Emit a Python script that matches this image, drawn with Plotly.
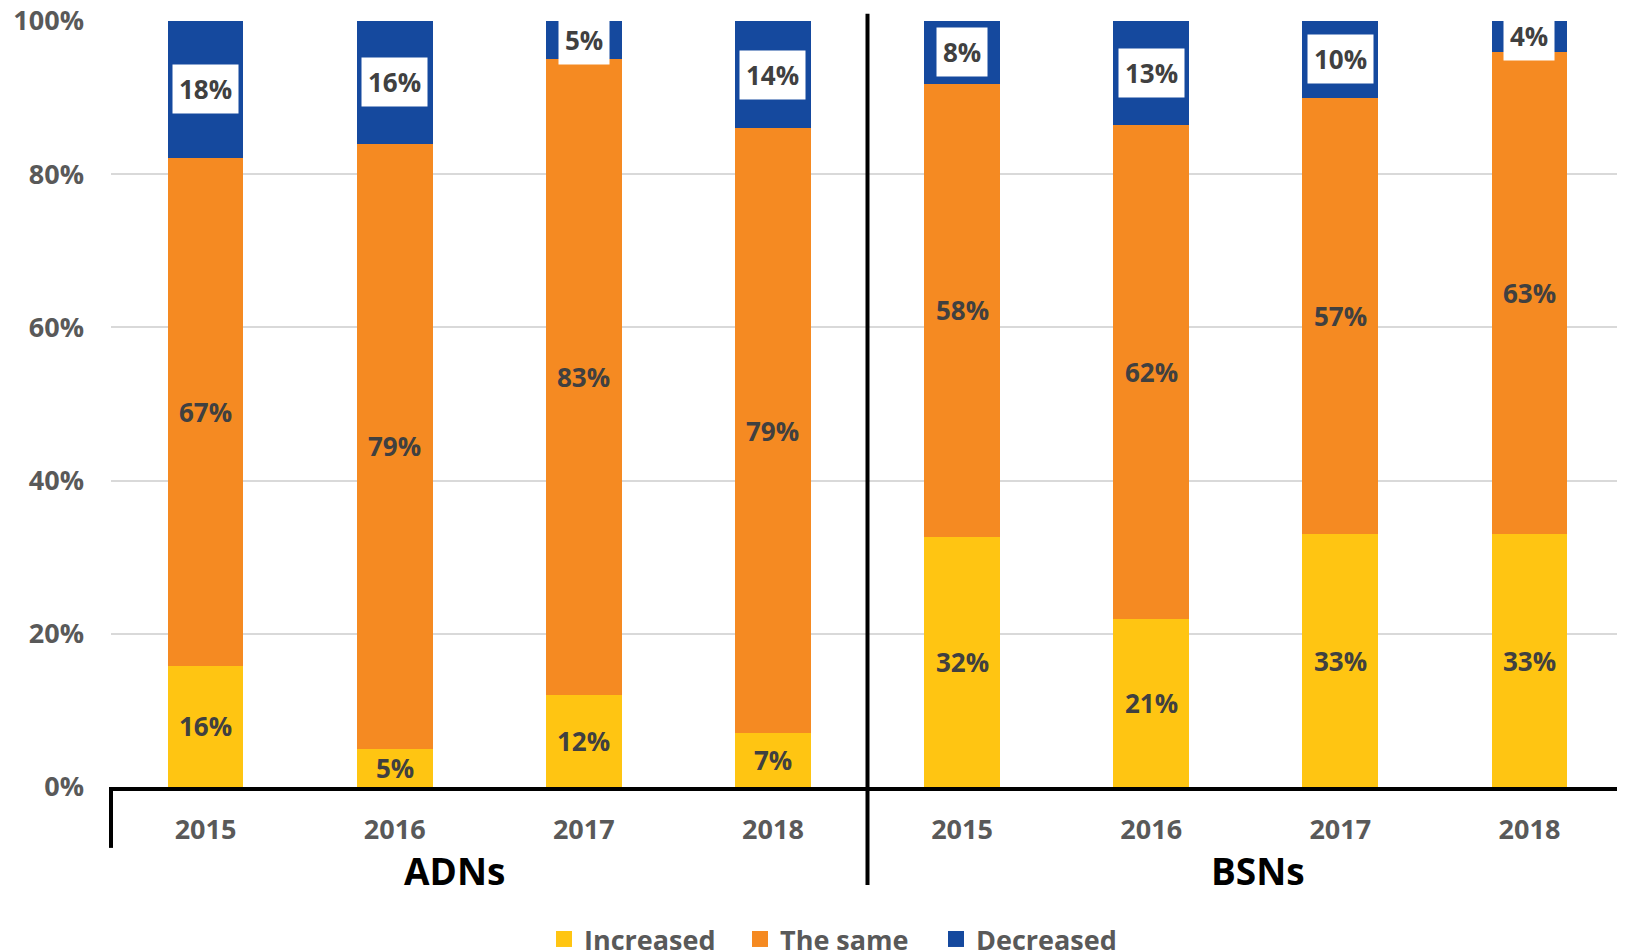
import plotly.graph_objects as go

# Survey answers, 100% stacked per year and group
years = ['2015', '2016', '2017', '2018']
groups = ['ADNs', 'BSNs']
categories = years + years

increased = [16, 5, 12, 7, 32, 21, 33, 33]
the_same = [67, 79, 83, 79, 58, 62, 57, 63]
decreased = [18, 16, 5, 14, 8, 13, 10, 4]

FONT = 'Open Sans'
COLORS = {
    'Increased': '#FFC512',
    'The same': '#F58A22',
    'Decreased': '#15499E',
}
series = [('Increased', increased), ('The same', the_same), ('Decreased', decreased)]

x = list(range(len(categories)))
totals = [a + b + c for a, b, c in zip(increased, the_same, decreased)]

fig = go.Figure()
for name, vals in series:
    fig.add_trace(go.Bar(
        x=x, y=vals, name=name,
        marker=dict(color=COLORS[name], line_width=0),
        showlegend=False
    ))
    # legend-only entry so the swatch can be a bigger square
    fig.add_trace(go.Scatter(
        x=[None], y=[None], mode='markers', name=name,
        marker=dict(symbol='square', size=18, color=COLORS[name])
    ))

# data labels, centered in each segment
base = [0] * len(x)
for name, vals in series:
    for i, v in enumerate(vals):
        yc = (base[i] + v / 2) / totals[i] * 100
        ann = dict(x=x[i], y=yc, text=f'{v}%', showarrow=False,
                   font=dict(family=FONT, size=26, color='#404040', weight='bold'))
        if name == 'Decreased':
            ann.update(bgcolor='white', borderpad=6)
        fig.add_annotation(**ann)
        base[i] += v

# group labels under the years
group_font = dict(family=FONT, size=37, color='black', weight='bold')
fig.add_annotation(x=1.5, y=-0.109, yref='paper', yanchor='middle', text=groups[0],
                   showarrow=False, xshift=-35, font=group_font)
fig.add_annotation(x=5.5, y=-0.109, yref='paper', yanchor='middle', text=groups[1],
                   showarrow=False, xshift=12, font=group_font)

# frame lines of the category axis
line = dict(color='black', width=4)
fig.add_shape(type='line', xref='paper', yref='paper', x0=0.5, x1=0.5, y0=-0.128, y1=1.0095, line=line)
fig.add_shape(type='line', xref='paper', yref='paper', x0=0, x1=0, y0=0, y1=-0.0795, line=line)
fig.add_shape(type='line', xref='paper', yref='paper', x0=1, x1=1, y0=0, y1=-0.0795, line=line)

# the page body adds an 8px margin, so the figure is 8px smaller
fig.update_layout(
    width=1617, height=944,
    margin=dict(l=103, r=1, t=13, b=165, autoexpand=False),
    barmode='stack', barnorm='percent', bargap=0.6,
    plot_bgcolor='white', paper_bgcolor='white',
    font=dict(family=FONT, size=27, color='#595959', weight='bold'),
    legend=dict(orientation='h', x=0.4805, xanchor='center', y=-0.167, yanchor='top',
                traceorder='normal',
                font=dict(family=FONT, size=27, color='#595959', weight='bold'),
                entrywidth=151, itemwidth=30),
    xaxis=dict(range=[-0.5, len(x) - 0.5], tickvals=x, ticktext=categories,
               showline=True, linecolor='black', linewidth=4, showgrid=False,
               zeroline=False, ticks='', ticklabelstandoff=16, automargin=False),
    yaxis=dict(range=[0, 100], dtick=20, ticksuffix='%', showgrid=True,
               gridcolor='#D9D9D9', gridwidth=2, zeroline=False, showline=False,
               ticks='', ticklabelstandoff=26, automargin=False,
               ticklabeloverflow='allow'),
)

fig.write_html('out.html')
